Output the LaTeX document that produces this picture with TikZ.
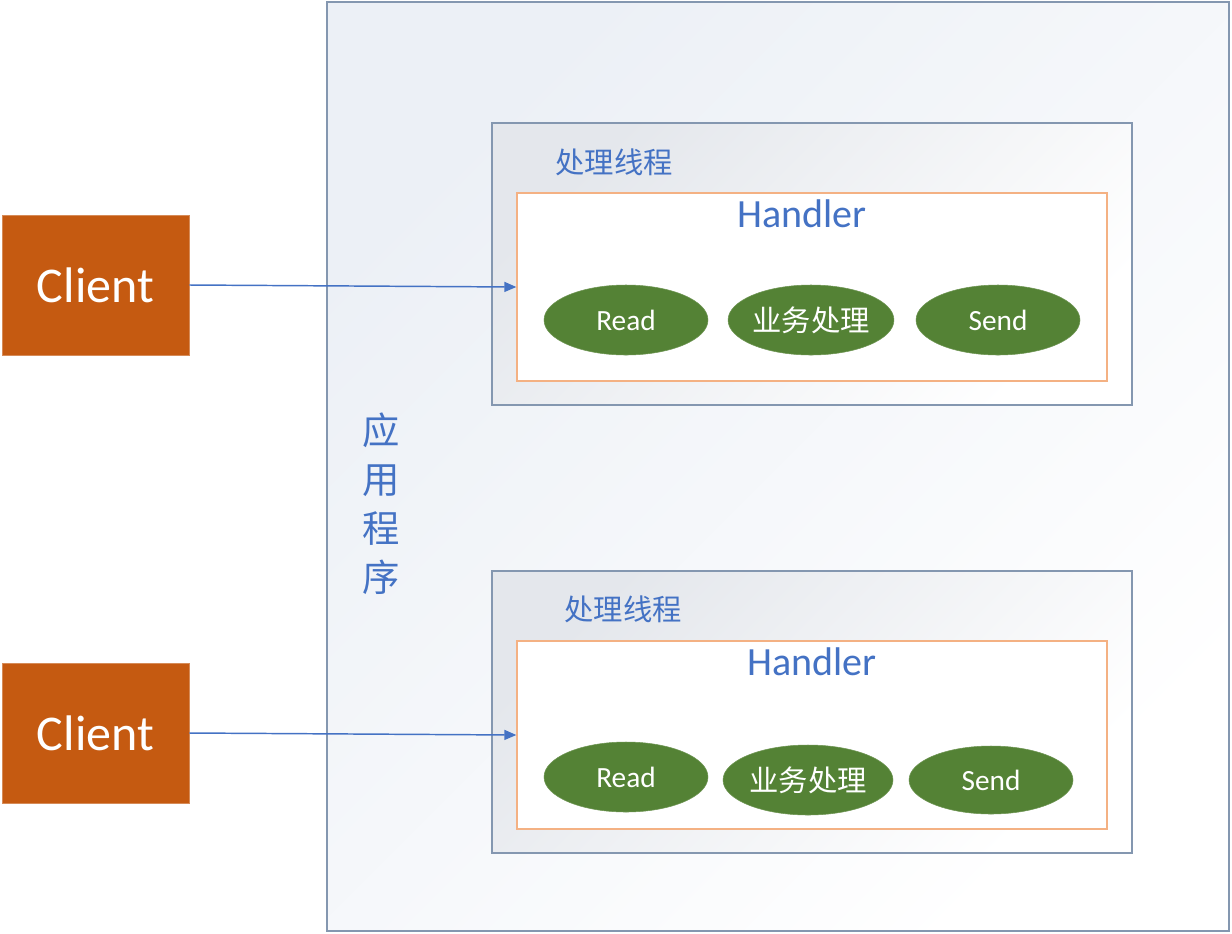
\documentclass[tikz,border=0pt]{standalone}
\usepackage{fontspec}
\setmainfont{Carlito}
\newfontfamily\cjk{Noto Sans CJK SC}
\usetikzlibrary{shapes.geometric,arrows.meta}
\definecolor{clientc}{HTML}{C55A11}
\definecolor{greenc}{HTML}{548235}
\definecolor{bluet}{HTML}{4472C4}
\definecolor{boxline}{HTML}{8497B0}
\definecolor{orangel}{HTML}{F4B183}
\definecolor{arrowc}{HTML}{4472C4}
\definecolor{outertop}{HTML}{ECF0F6}
\definecolor{threadtop}{HTML}{E4E7EC}
\def\u{0.75pt}
\tikzset{
  outerbox/.style={draw=boxline, line width=1pt, shade, top color=outertop, bottom color=white, shading angle=45, inner sep=0},
  threadbox/.style={draw=boxline, line width=1pt, shade, top color=threadtop, bottom color=white, shading angle=45, inner sep=0},
  handlerbox/.style={draw=orangel, line width=1pt, fill=white, inner sep=0},
  clientbox/.style={fill=clientc, draw=clientc!70!white, line width=0.6pt, text=white, inner sep=0, minimum width=187*\u, minimum height=140*\u, font=\fontsize{37.5}{44}\selectfont},
  step ell/.style={ellipse, fill=greenc, draw=greenc!85!white, text=white, inner sep=0, minimum height=70*\u, font=\fontsize{22}{26}\selectfont},
  bluetext/.style={text=bluet, inner sep=0},
  conn/.style={draw=arrowc, line width=1.1pt, -{Triangle[length=9pt,width=7.5pt]}}
}
\begin{document}
\begin{tikzpicture}[x=0.75pt,y=-0.75pt]
\useasboundingbox (0,0) rectangle (1232,933);
% outer application box
\node[outerbox, minimum width=902*\u, minimum height=929*\u] (app) at (778,466.5) {};
\node[bluetext, align=center, font=\cjk\fontsize{28}{36.75}\selectfont] (applabel) at (381,504) {应\\用\\程\\序};
% thread boxes
\node[threadbox, minimum width=640*\u, minimum height=282*\u] (t1) at (812,264) {};
\node[threadbox, minimum width=640*\u, minimum height=282*\u] (t2) at (812,712) {};
\node[bluetext, font=\cjk\fontsize{22}{26}\selectfont] (t1label) at (614,162) {处理线程};
\node[bluetext, font=\cjk\fontsize{22}{26}\selectfont] (t2label) at (623,609) {处理线程};
% handler boxes
\node[handlerbox, minimum width=590*\u, minimum height=188*\u] (h1) at (812,287) {};
\node[handlerbox, minimum width=590*\u, minimum height=188*\u] (h2) at (812,735) {};
\node[bluetext, font=\fontsize{30}{34}\selectfont] (h1label) at (802,214) {Handler};
\node[bluetext, font=\fontsize{30}{34}\selectfont] (h2label) at (812,662) {Handler};
% ellipses
\node[step ell, minimum width=164*\u] (r1) at (626,320) {Read};
\node[step ell, minimum width=163*\u, font=\cjk\fontsize{22}{26}\selectfont] (b1) at (811,320) {业务处理};
\node[step ell, minimum width=164*\u] (s1) at (998,320) {Send};
\node[step ell, minimum width=164*\u] (r2) at (626,777) {Read};
\node[step ell, minimum width=170*\u, font=\cjk\fontsize{22}{26}\selectfont] (b2) at (808,780) {业务处理};
\node[step ell, minimum width=164*\u, minimum height=68*\u] (s2) at (991,780) {Send};
% clients
\node[clientbox] (c1) at (95.5,285) {Client};
\node[clientbox] (c2) at (95.5,733) {Client};
% connectors
\draw[conn] (c1.east) -- (h1.west);
\draw[conn] (c2.east) -- (h2.west);
\end{tikzpicture}
\end{document}
